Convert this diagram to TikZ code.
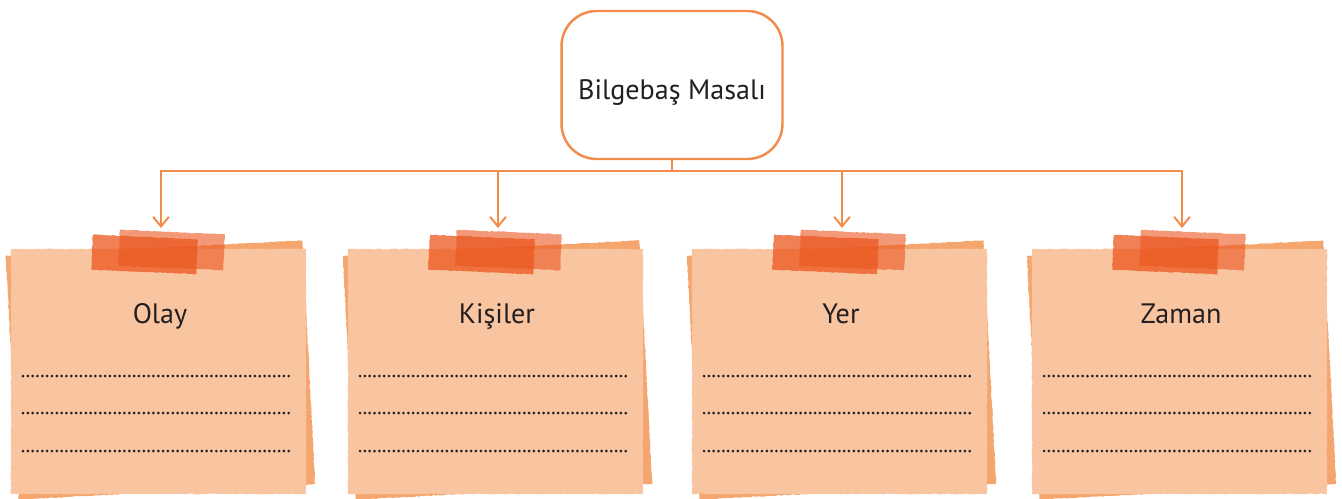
\documentclass[tikz,border=0pt]{standalone}
\usepackage{fontspec}
\setmainfont{PT Sans}
\usetikzlibrary{arrows.meta, decorations.pathmorphing}

\definecolor{lineorange}{RGB}{241,140,75}
\definecolor{notepeach}{RGB}{249,197,160}
\definecolor{noteback}{RGB}{245,166,110}
\definecolor{tapeorange}{RGB}{235,85,30}
\definecolor{inkgray}{RGB}{35,31,32}

\begin{document}
\begin{tikzpicture}[x=0.02cm, y=-0.02cm,
	link/.style={draw=lineorange, line width=1.1pt},
	rough/.style={decorate, decoration={random steps, segment length=1.2pt, amplitude=0.25pt}},
	dotline/.style={inkgray, line width=1.7pt, line cap=round, dash pattern=on 0pt off 2.75pt},
	label/.style={text=inkgray, font=\fontsize{16}{19}\selectfont}]
			\useasboundingbox (0,0) rectangle (1342,498);
			
			% --- TITLE BOX ---
			\node[draw=lineorange, line width=1.4pt, rounded corners=20pt, fill=white,
				minimum width=4.42cm, minimum height=2.96cm] (masal) at (672,85) {};
			\node[label, anchor=base] (titel) at (672,99) {Bilgebaş Masalı};
			\coordinate (bus) at (672,171);
			\draw[link] (masal.south) -- (bus);
			
			% --- NOTES ---
			\foreach \x/\name/\txt in {161/olay/Olay, 498/kisiler/Kişiler, 842/yer/Yer, 1182/zaman/Zaman} {
				\begin{scope}[shift={(\x,0)}]
					% back sheet
					\fill[noteback, rough, rotate around={3:(-1,370)}] (-149,248) rectangle (148,492);
					% front sheet
					\fill[notepeach, rough] (-150,249) rectangle (145,494);
					
					% tape
					\fill[tapeorange, fill opacity=0.75, rough, rotate around={-2.5:(-16,254)}] (-69,237) rectangle (36,272);
					\fill[tapeorange, fill opacity=0.6, rough, rotate around={-2.5:(10,250)}] (-42,232) rectangle (63,268);
					
					\node[label, anchor=base] (\name) at (-1,323) {\txt};
					\coordinate (\name-in) at (0,228);
					
					% writing lines
					\foreach \y in {376, 413, 451} {
						\draw[dotline] (-138,\y) -- (130,\y);
					}
				\end{scope}
			}
			
			% --- CONNECTORS ---
			\foreach \name in {olay, kisiler, yer, zaman} {
				\draw[link, -{Straight Barb[length=5.5pt, width=9pt]}] (bus) -| (\name-in);
			}
		\end{tikzpicture}
\end{document}
